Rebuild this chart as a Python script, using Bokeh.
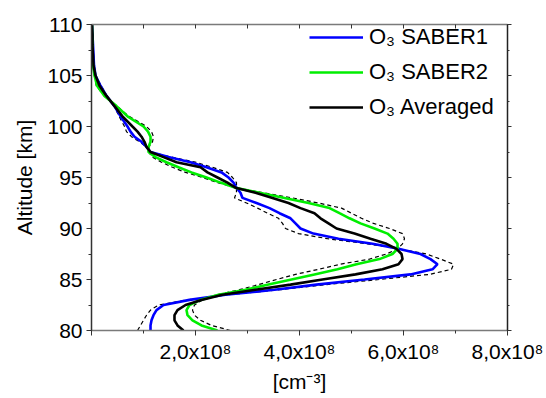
from bokeh.plotting import figure
from bokeh.models import (Range1d, LinearAxis, SingleIntervalTicker, Legend, LegendItem,
                          CustomJSTickFormatter)
from bokeh.embed import file_html
from bokeh.resources import INLINE

# Altitude grid [km]
altitude = [80, 80.5, 81, 81.5, 82, 82.5, 83, 83.5, 84, 84.5, 85, 85.5, 86, 86.5, 87, 87.5,
            88, 88.5, 89, 89.5, 90, 90.5, 91, 91.5, 92, 92.5, 93, 93.5, 94, 94.5, 95, 95.5,
            96, 96.5, 97, 97.5, 98, 98.5, 99, 99.5, 100, 101, 102, 103, 104, 105, 106, 107,
            108, 109, 110]

# O3 number density in units of 1e8 cm^-3
saber1 = [1.135, 1.135, 1.154, 1.192, 1.25, 1.385, 1.885, 2.577, 3.519, 4.327, 5.25, 6.135,
          6.558, 6.654, 6.519, 6.327, 5.923, 5.404, 4.75, 4.269, 4.019, 3.923, 3.827, 3.615,
          3.423, 3.173, 2.904, 2.865, 2.788, 2.731, 2.635, 2.5, 2.212, 1.904, 1.481, 1.135,
          1.058, 0.962, 0.827, 0.75, 0.692, 0.558, 0.442, 0.288, 0.173, 0.077, 0.048, 0.038,
          0.029, 0.019, 0.01]
saber2 = [2.423, 2.115, 1.942, 1.846, 1.827, 1.885, 2.096, 2.442, 2.962, 3.404, 3.846, 4.288,
          4.731, 5.096, 5.538, 5.788, 5.885, 5.885, 5.808, 5.692, 5.442, 5.173, 4.962, 4.769,
          4.577, 4.173, 3.712, 3.231, 2.769, 2.481, 2.212, 1.923, 1.673, 1.442, 1.231, 1.096,
          1.096, 1.135, 1.135, 1.087, 1.0, 0.692, 0.481, 0.25, 0.106, 0.058, 0.029, 0.019,
          0.019, 0.013, 0.01]
averaged = [1.769, 1.654, 1.596, 1.596, 1.654, 1.808, 2.115, 2.519, 3.154, 3.827, 4.442, 5.077,
            5.596, 5.904, 5.981, 5.962, 5.865, 5.673, 5.365, 5.058, 4.712, 4.558, 4.404, 4.288,
            4.019, 3.788, 3.481, 3.154, 2.769, 2.615, 2.423, 2.231, 2.096, 1.635, 1.385, 1.135,
            1.058, 1.019, 0.962, 0.885, 0.788, 0.596, 0.442, 0.288, 0.154, 0.077, 0.038, 0.029,
            0.019, 0.019, 0.01]
dashed_a = [0.885, 0.942, 1.0, 1.058, 1.135, 1.288, 1.846, 2.6, 3.63, 4.51, 5.53, 6.5,
            6.923, 6.962, 6.712, 6.442, 5.923, 5.308, 4.538, 3.981, 3.731, 3.673, 3.596, 3.385,
            3.192, 2.981, 2.75, 2.788, 2.788, 2.788, 2.712, 2.615, 2.327, 2.0, 1.538, 1.135,
            1.058, 0.923, 0.769, 0.673, 0.635, 0.529, 0.435, 0.296, 0.187, 0.077, 0.05, 0.04,
            0.03, 0.02, 0.01]
dashed_b = [2.673, 2.308, 2.096, 1.981, 1.942, 1.981, 2.135, 2.404, 2.846, 3.212, 3.558, 3.923,
            4.365, 4.788, 5.346, 5.673, 5.885, 5.981, 6.019, 5.981, 5.731, 5.423, 5.192, 5.0,
            4.808, 4.365, 3.865, 3.308, 2.769, 2.423, 2.135, 1.808, 1.558, 1.346, 1.173, 1.096,
            1.104, 1.173, 1.192, 1.154, 1.058, 0.719, 0.488, 0.242, 0.092, 0.054, 0.025, 0.018,
            0.015, 0.012, 0.01]

x_ticks = [0, 2, 4, 6, 8]
x_tick_labels = ["", "2,0x10\u2078", "4,0x10\u2078", "6,0x10\u2078", "8,0x10\u2078"]
series_labels = ["O\u2083 SABER1", "O\u2083 SABER2", "O\u2083 Averaged"]
series_colors = ["#0000ff", "#00ee00", "#000000"]

FONT = "Liberation Sans"

p = figure(width=546, height=398, output_backend="svg", toolbar_location=None,
           x_range=Range1d(0, 8), y_range=Range1d(80, 110),
           min_border_left=91, min_border_right=39, min_border_top=24, min_border_bottom=68,
           x_axis_location=None, y_axis_location=None)
p.xgrid.visible = False
p.ygrid.visible = False
p.outline_line_color = None
p.background_fill_color = "white"
p.border_fill_color = "white"

# bottom axis
xb = LinearAxis(ticker=SingleIntervalTicker(interval=2, num_minor_ticks=2))
xb.major_label_overrides = {t: l for t, l in zip(x_ticks, x_tick_labels)}
xb.axis_label = "[cm\u207b\u00b3]"
# left axis
yl = LinearAxis(ticker=SingleIntervalTicker(interval=5, num_minor_ticks=2))
yl.axis_label = "Altitude [km]"
for ax in (xb, yl):
    ax.major_label_text_font = FONT
    ax.major_label_text_font_size = "21px"
    ax.major_label_text_color = "black"
    ax.axis_label_text_font = FONT
    ax.axis_label_text_font_size = "21px"
    ax.axis_label_text_font_style = "normal"
    ax.axis_label_text_color = "black"
    ax.major_tick_in = 0
    ax.major_tick_out = 5
    ax.minor_tick_in = 0
    ax.minor_tick_out = 3
    ax.major_tick_line_color = "#333333"
    ax.minor_tick_line_color = "#333333"
    ax.axis_line_width = 1.5
xb.axis_line_color = "#7a7a7a"
yl.axis_line_color = "#333333"
xb.major_label_standoff = 4
yl.major_label_standoff = 4
yl.axis_label_standoff = 8
xb.axis_label_standoff = 4
p.add_layout(xb, "below")
p.add_layout(yl, "left")

# mirrored top and right axes (ticks only, no labels)
blank = CustomJSTickFormatter(code="return '';")
xt = LinearAxis(ticker=SingleIntervalTicker(interval=1, num_minor_ticks=0), formatter=blank)
yr = LinearAxis(ticker=SingleIntervalTicker(interval=5, num_minor_ticks=2), formatter=blank)
for ax in (xt, yr):
    ax.major_label_standoff = 0
    ax.axis_line_width = 1.5
    ax.major_tick_line_color = "#333333"
    ax.minor_tick_line_color = "#333333"
xt.axis_line_color = "#7a7a7a"
yr.axis_line_color = "#222222"
xt.major_tick_in = 4
xt.major_tick_out = 0
yr.major_tick_in = 0
yr.major_tick_out = 4
yr.minor_tick_in = 0
yr.minor_tick_out = 2
p.add_layout(xt, "above")
p.add_layout(yr, "right")

# dashed envelopes
p.line(dashed_a, altitude, line_color="black", line_width=1.2, line_dash="4 3")
p.line(dashed_b, altitude, line_color="black", line_width=1.2, line_dash="4 3")

renderers = []
for vals, col in zip([saber1, saber2, averaged], series_colors):
    r = p.line(vals, altitude, line_color=col, line_width=2.6)
    renderers.append(r)

legend = Legend(items=[LegendItem(label=lab, renderers=[r]) for lab, r in zip(series_labels, renderers)],
                location="top_right")
legend.label_text_font = FONT
legend.label_text_font_size = "22px"
legend.label_text_color = "black"
legend.glyph_width = 54
legend.glyph_height = 26
legend.label_height = 26
legend.label_width = 138
legend.label_standoff = 6
legend.spacing = 9
legend.padding = 2
legend.margin = 0
legend.border_line_color = None
legend.background_fill_alpha = 0
p.add_layout(legend)

open("out.html", "w").write(file_html(p, INLINE))
